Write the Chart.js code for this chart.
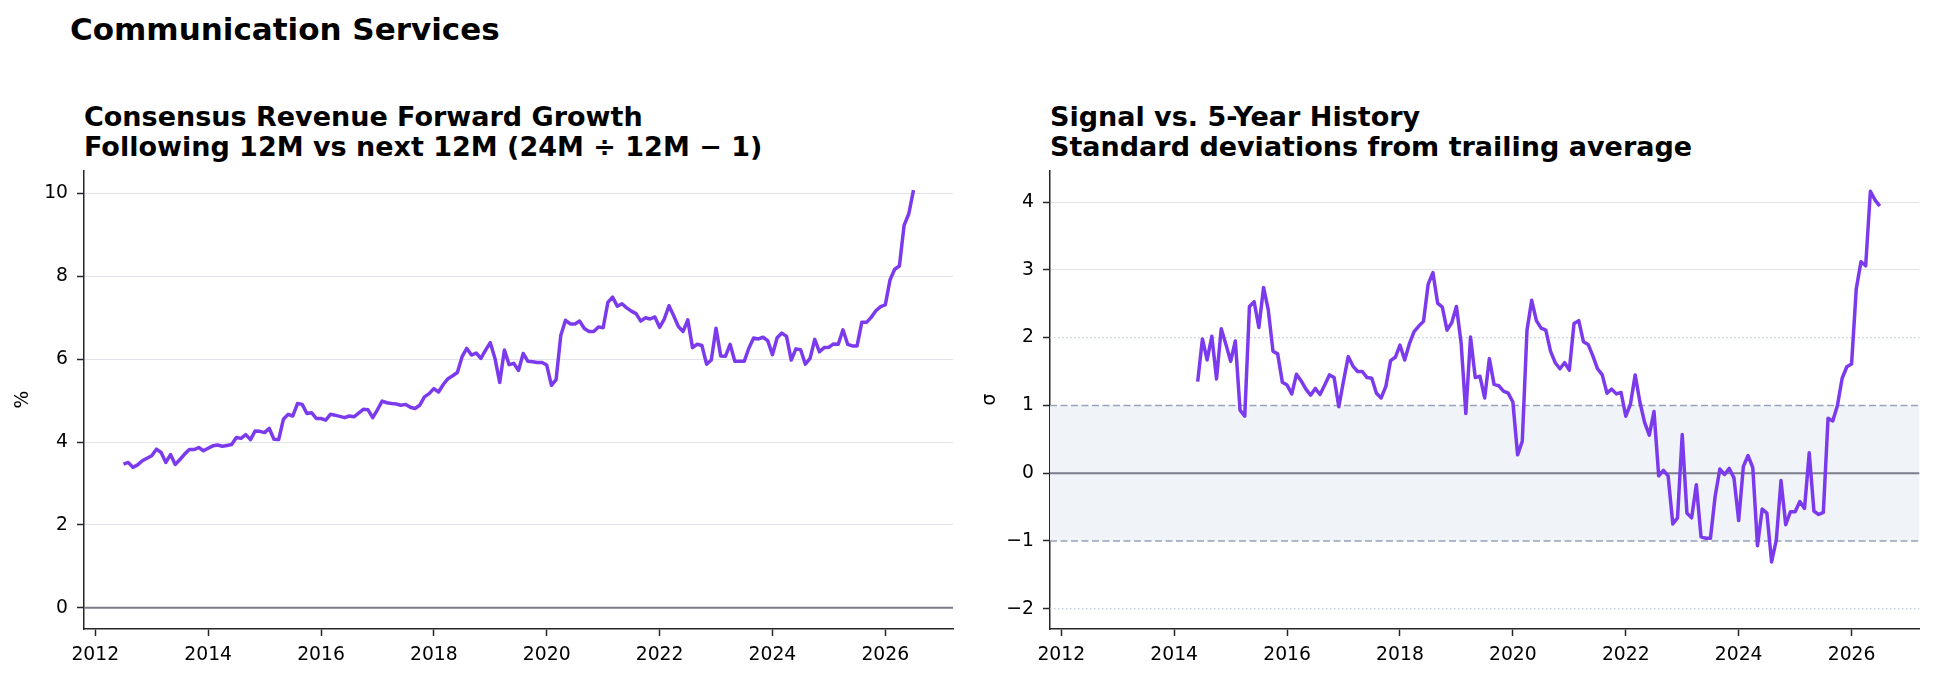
<!DOCTYPE html>
<html>
<head>
<meta charset="utf-8">
<script src="https://cdn.jsdelivr.net/npm/chart.js@4.4.1/dist/chart.umd.min.js"></script>
<style>
  body { margin: 0; background: #fff; width: 1934px; height: 679px; position: relative; overflow: hidden; font-family: "DejaVu Sans", sans-serif; }
  .suptitle { position: absolute; left: 70px; top: 14px; font-size: 31px; font-weight: bold; line-height: 1; color: #000; white-space: nowrap; }
  .title { position: absolute; top: 102px; font-size: 27px; font-weight: bold; line-height: 29.6px; color: #000; white-space: nowrap; }
  canvas { position: absolute; top: 150px; }
</style>
</head>
<body>
<div class="suptitle">Communication Services</div>
<div class="title" style="left:84px">Consensus Revenue Forward Growth<br>Following 12M vs next 12M (24M ÷ 12M − 1)</div>
<div class="title" style="left:1050px">Signal vs. 5-Year History<br>Standard deviations from trailing average</div>
<canvas id="growth" width="967" height="529" style="left:0"></canvas>
<canvas id="signal" width="967" height="529" style="left:967px"></canvas>
<script>
// monthly series, first point = start month (decimal year)
const growthStart = 2012 + 6 / 12   // Jul 2012
const growth = [
  3.47, 3.51, 3.39, 3.45, 3.55, 3.61, 3.67, 3.83, 3.75, 3.51,
  3.70, 3.46, 3.58, 3.71, 3.82, 3.82, 3.87, 3.79, 3.85, 3.91,
  3.93, 3.90, 3.92, 3.94, 4.11, 4.09, 4.18, 4.06, 4.27, 4.26,
  4.23, 4.33, 4.07, 4.06, 4.55, 4.67, 4.63, 4.93, 4.91, 4.69,
  4.71, 4.57, 4.57, 4.53, 4.67, 4.65, 4.62, 4.59, 4.63, 4.61,
  4.70, 4.79, 4.78, 4.59, 4.78, 4.99, 4.95, 4.93, 4.92, 4.89,
  4.91, 4.84, 4.81, 4.89, 5.09, 5.17, 5.29, 5.21, 5.39, 5.53,
  5.60, 5.68, 6.06, 6.26, 6.10, 6.15, 6.02, 6.22, 6.40, 6.02,
  5.44, 6.22, 5.87, 5.90, 5.73, 6.14, 5.95, 5.94, 5.92, 5.92,
  5.86, 5.37, 5.51, 6.58, 6.94, 6.85, 6.85, 6.92, 6.74, 6.67,
  6.67, 6.78, 6.76, 7.37, 7.50, 7.28, 7.34, 7.24, 7.16, 7.10,
  6.92, 7.00, 6.97, 7.02, 6.77, 6.97, 7.29, 7.05, 6.79, 6.67,
  6.95, 6.28, 6.36, 6.33, 5.88, 5.98, 6.75, 6.08, 6.07, 6.36,
  5.95, 5.95, 5.95, 6.27, 6.51, 6.49, 6.53, 6.45, 6.11, 6.52,
  6.63, 6.55, 5.98, 6.25, 6.23, 5.88, 6.02, 6.48, 6.18, 6.28,
  6.29, 6.37, 6.36, 6.71, 6.36, 6.32, 6.32, 6.89, 6.89, 7.01,
  7.17, 7.27, 7.31, 7.91, 8.17, 8.25, 9.23, 9.51, 10.08
]

const signalStart = 2014 + 5 / 12   // Jun 2014
const signal = [
  1.35, 1.98, 1.67, 2.02, 1.39, 2.13, 1.90, 1.65, 1.95, 0.93,
  0.84, 2.46, 2.53, 2.15, 2.74, 2.41, 1.80, 1.76, 1.34, 1.30,
  1.17, 1.46, 1.36, 1.24, 1.15, 1.25, 1.16, 1.30, 1.45, 1.41,
  0.98, 1.36, 1.72, 1.58, 1.50, 1.50, 1.41, 1.40, 1.18, 1.11,
  1.28, 1.66, 1.71, 1.89, 1.67, 1.91, 2.09, 2.17, 2.24, 2.79,
  2.96, 2.51, 2.45, 2.11, 2.22, 2.46, 1.92, 0.88, 2.01, 1.41,
  1.43, 1.11, 1.69, 1.31, 1.29, 1.21, 1.18, 1.05, 0.27, 0.47,
  2.11, 2.55, 2.25, 2.14, 2.11, 1.80, 1.63, 1.54, 1.63, 1.52,
  2.21, 2.25, 1.94, 1.90, 1.73, 1.54, 1.45, 1.18, 1.24, 1.17,
  1.19, 0.84, 1.02, 1.45, 1.05, 0.75, 0.56, 0.91, -0.04, 0.04,
  -0.04, -0.75, -0.66, 0.57, -0.59, -0.66, -0.17, -0.94, -0.96, -0.96,
  -0.34, 0.06, -0.02, 0.07, -0.07, -0.70, 0.10, 0.26, 0.08, -1.07,
  -0.53, -0.59, -1.31, -0.99, -0.11, -0.76, -0.57, -0.57, -0.42, -0.52,
  0.30, -0.56, -0.61, -0.58, 0.81, 0.77, 1.00, 1.40, 1.57, 1.61,
  2.72, 3.12, 3.06, 4.16, 4.03, 3.94
]

const xRange = [2011.8, 2027.2]
const xTickStep = 2
const growthRange = [-0.51, 10.56]
const growthTickStep = 2
const signalRange = [-2.3, 4.47]
const signalTickStep = 1

// reference levels
const zeroLevel = 0
const bandLevels = [-1, 1]
const dottedLevels = [-2, 2]

const LINE = '#7c3aed'
const INK = '#262626'
const GRID = '#e2e2ec'
const FONT = { family: 'DejaVu Sans', size: 18.75 }

Chart.defaults.font.family = 'DejaVu Sans'

const toPoints = (start, vals) => vals.map((v, i) => ({ x: start + i / 12, y: v }))
const minus = v => v < 0 ? '\u2212' + Math.abs(v) : String(v)

// band + horizontal reference lines under the data
const refLines = {
    id: 'refLines',
    beforeDatasetsDraw(chart, args, opts) {
        const { ctx, chartArea: { left, right }, scales: { y } } = chart
        ctx.save()
        if (opts.band) {
            const top = y.getPixelForValue(opts.band[1])
            const bot = y.getPixelForValue(opts.band[0])
            ctx.fillStyle = '#f0f3f8'
            ctx.fillRect(left, top, right - left, bot - top)
        }
        for (const l of opts.lines || []) {
            const py = y.getPixelForValue(l.value)
            ctx.beginPath()
            ctx.setLineDash(l.dash || [])
            ctx.strokeStyle = l.color
            ctx.lineWidth = l.width
            ctx.moveTo(left, py)
            ctx.lineTo(right, py)
            ctx.stroke()
        }
        ctx.restore()
    }
}

function makeChart(id, points, yRange, yStep, yTitle, yWidth, padRight, refs, hidden) {
    return new Chart(document.getElementById(id), {
        type: 'line',
        data: {
            datasets: [{
                data: points,
                borderColor: LINE,
                borderWidth: 3.5,
                pointRadius: 0,
                tension: 0,
                borderJoinStyle: 'round',
                fill: false,
            }]
        },
        options: {
            responsive: false,
            animation: false,
            devicePixelRatio: 1,
            layout: { padding: { left: 0, right: padRight, top: 17, bottom: 0 } },
            plugins: {
                legend: { display: false },
                tooltip: { enabled: false },
                refLines: refs,
            },
            scales: {
                x: {
                    type: 'linear',
                    min: xRange[0],
                    max: xRange[1],
                    ticks: {
                        stepSize: xTickStep,
                        includeBounds: false,
                        autoSkip: false,
                        maxRotation: 0,
                        padding: 8,
                        color: '#000',
                        font: FONT,
                        callback: v => String(v),
                    },
                    grid: { drawOnChartArea: false, drawTicks: true, tickLength: 7, tickColor: INK, tickWidth: 1.5 },
                    border: { display: true, color: INK, width: 1.5 },
                    afterFit: s => { s.height = 50 },
                },
                y: {
                    min: yRange[0],
                    max: yRange[1],
                    ticks: {
                        stepSize: yStep,
                        includeBounds: false,
                        padding: 9,
                        color: '#000',
                        font: FONT,
                        callback: v => minus(v),
                    },
                    grid: {
                        color: c => hidden.includes(c.tick.value) ? 'rgba(0,0,0,0)' : GRID,
                        lineWidth: 1,
                        drawTicks: true,
                        tickLength: 7,
                        tickColor: INK,
                        tickWidth: 1.5,
                    },
                    border: { display: true, color: INK, width: 1.5 },
                    title: { display: true, text: yTitle, color: '#000', font: FONT, padding: { top: 12, bottom: 0 } },
                    afterFit: s => { s.width = yWidth },
                },
            },
        },
        plugins: [refLines],
    })
}

makeChart('growth', toPoints(growthStart, growth), growthRange, growthTickStep, '%', 84, 14,
    { lines: [{ value: zeroLevel, color: '#7b7d8c', width: 2 }] },
    [zeroLevel])

makeChart('signal', toPoints(signalStart, signal), signalRange, signalTickStep, 'σ', 83, 14.7,
    {
        band: bandLevels,
        lines: [
            ...dottedLevels.map(v => ({ value: v, color: '#c4ccda', width: 1.2, dash: [1.5, 2.5] })),
            ...bandLevels.map(v => ({ value: v, color: '#97a3b6', width: 1.5, dash: [7, 3.5] })),
            { value: zeroLevel, color: '#7b7d8c', width: 2 },
        ]
    },
    [zeroLevel, ...bandLevels, ...dottedLevels])
</script>
</body>
</html>
